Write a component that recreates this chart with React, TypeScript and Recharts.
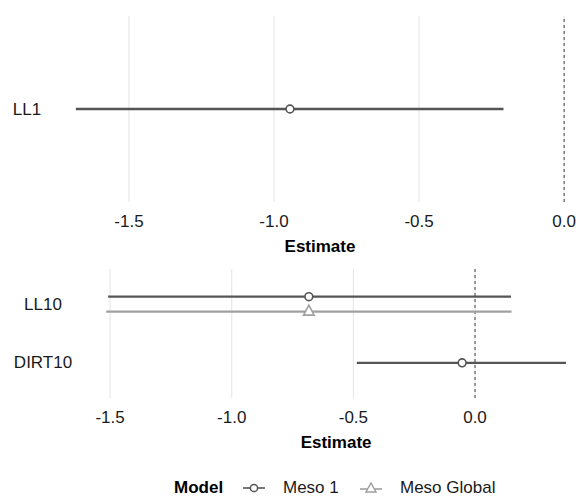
import React from "react";
import { ScatterChart, Scatter, XAxis, YAxis, Legend } from "recharts";

const FONT = "'Liberation Sans', Arial, Helvetica, sans-serif";

// ---------- data ----------
const topTerms = ["LL1"];
const topMeso1Estimate = [-0.945];
const topMeso1Low = [-1.683];
const topMeso1High = [-0.209];

const bottomTerms = ["LL10", "DIRT10"];
const bottomMeso1Estimate = [-0.683, -0.053];
const bottomMeso1Low = [-1.508, -0.486];
const bottomMeso1High = [0.148, 0.374];

const bottomGlobalTerms = ["LL10"];
const bottomGlobalEstimate = [-0.683];
const bottomGlobalLow = [-1.516];
const bottomGlobalHigh = [0.15];

const xTicks = [-1.5, -1.0, -0.5, 0.0];
const zeroLine = 0;
const models = ["Meso 1", "Meso Global"];

// ---------- style ----------
const MESO1 = "#555555";
const GLOBAL = "#a0a0a0";
const GRID = "#e6e6e6";
const TEXT = "#1a1a1a";
const DODGE = 0.128;

type Row = { y: number; est: number; lo: number; hi: number };

function buildRows(
  terms: string[],
  est: number[],
  lo: number[],
  hi: number[],
  allTerms: string[],
  otherTerms: string[],
  sign: number
): Row[] {
  return terms.map((t, i) => {
    const idx = allTerms.indexOf(t);
    const base = allTerms.length - idx;
    const dodge = otherTerms.includes(t) ? sign * DODGE : 0;
    return { y: base + dodge, est: est[i], lo: lo[i], hi: hi[i] };
  });
}

const topMeso1Rows = buildRows(topTerms, topMeso1Estimate, topMeso1Low, topMeso1High, topTerms, [], 1);
const bottomMeso1Rows = buildRows(
  bottomTerms,
  bottomMeso1Estimate,
  bottomMeso1Low,
  bottomMeso1High,
  bottomTerms,
  bottomGlobalTerms,
  1
);
const bottomGlobalRows = buildRows(
  bottomGlobalTerms,
  bottomGlobalEstimate,
  bottomGlobalLow,
  bottomGlobalHigh,
  bottomTerms,
  bottomTerms,
  -1
);

const fmt = (v: number) => (Math.abs(v) < 1e-9 ? "0.0" : v.toFixed(1));

const CircleShape = (color: string) => (p: any) =>
  <circle cx={p.cx} cy={p.cy} r={3.9} fill="#ffffff" stroke={color} strokeWidth={1.6} />;

const TriangleShape = (color: string) => (p: any) => {
  const cx = p.cx;
  const cy = p.cy;
  const pts = `${cx},${cy - 6.6} ${cx + 5.3},${cy + 3.4} ${cx - 5.3},${cy + 3.4}`;
  return <polygon points={pts} fill="#ffffff" stroke={color} strokeWidth={1.6} strokeLinejoin="miter" />;
};

const NoShape = () => <g />;

const XTick = (p: any) => (
  <text
    x={p.x}
    y={p.y + 19}
    textAnchor="middle"
    dominantBaseline="central"
    fontFamily={FONT}
    fontSize={17}
    fill={TEXT}
  >
    {fmt(p.payload.value)}
  </text>
);

const makeYTick = (terms: string[], cx: number) => (p: any) => {
  const v = p.payload.value as number;
  const label = terms[terms.length - Math.round(v)];
  return (
    <text
      x={cx}
      y={p.y}
      textAnchor="middle"
      dominantBaseline="central"
      fontFamily={FONT}
      fontSize={17}
      fill={TEXT}
    >
      {label}
    </text>
  );
};

const estimateLabel = (p: any) => {
  const vb = p.viewBox || {};
  return (
    <text
      x={vb.x + vb.width / 2}
      y={vb.y + 44.5}
      textAnchor="middle"
      dominantBaseline="central"
      fontFamily={FONT}
      fontSize={17}
      fontWeight="bold"
      fill="#000"
    >
      Estimate
    </text>
  );
};

// vertical line through the whole panel, drawn as a data series
function vline(x: number, yDomain: number[], lineProps: any, key: string) {
  return (
    <Scatter
      key={key}
      data={[
        { x, y: yDomain[0] },
        { x, y: yDomain[1] },
      ]}
      line={lineProps}
      lineType="joint"
      shape={NoShape}
      isAnimationActive={false}
    />
  );
}

function gridAndZero(yDomain: number[], prefix: string) {
  return [
    ...xTicks.map((t, i) => vline(t, yDomain, { stroke: GRID, strokeWidth: 1.1 }, `${prefix}-g${i}`)),
    vline(zeroLine, yDomain, { stroke: "#444444", strokeWidth: 1, strokeDasharray: "3 3" }, `${prefix}-zero`),
  ];
}

function intervals(rows: Row[], color: string, keyPrefix: string) {
  return rows.map((r, i) => (
    <Scatter
      key={`${keyPrefix}-${i}`}
      data={[
        { x: r.lo, y: r.y },
        { x: r.hi, y: r.y },
      ]}
      line={{ stroke: color, strokeWidth: 2.3 }}
      lineType="joint"
      shape={NoShape}
      isAnimationActive={false}
    />
  ));
}

const LegendContent = () => (
  <div
    style={{
      position: "relative",
      width: 589,
      height: 18,
      fontFamily: FONT,
      fontSize: 17,
      color: TEXT,
    }}
  >
    <span style={{ position: "absolute", left: 174, top: 0, lineHeight: "18px", fontWeight: "bold", color: "#000" }}>
      Model
    </span>
    <svg style={{ position: "absolute", left: 243, top: 0 }} width={22} height={18}>
      <line x1={0} y1={9} x2={22} y2={9} stroke={MESO1} strokeWidth={1.6} />
      <circle cx={11} cy={9} r={3.6} fill="#fff" stroke={MESO1} strokeWidth={1.5} />
    </svg>
    <span style={{ position: "absolute", left: 283, top: 0, lineHeight: "18px", whiteSpace: "nowrap" }}>
      {models[0]}
    </span>
    <svg style={{ position: "absolute", left: 360, top: 0 }} width={22} height={18}>
      <line x1={0} y1={10} x2={22} y2={10} stroke={GLOBAL} strokeWidth={1.6} />
      <polygon points="11,4 16,13 6,13" fill="#fff" stroke={GLOBAL} strokeWidth={1.5} />
    </svg>
    <span style={{ position: "absolute", left: 400, top: 0, lineHeight: "18px", whiteSpace: "nowrap" }}>
      {models[1]}
    </span>
  </div>
);

const topYDomain = [0.4, 1.6];
const bottomYDomain = [0.4, 2.6];

export default function App() {
  return (
    <div
      style={{
        position: "absolute",
        left: 0,
        top: 0,
        width: 576,
        height: 497,
        overflow: "hidden",
        background: "#ffffff",
      }}
    >
      <div style={{ position: "absolute", left: 0, top: 0 }}>
        <ScatterChart width={588.5} height={260} margin={{ top: 16, right: 0, bottom: 0, left: 0 }}>
          <XAxis
            type="number"
            dataKey="x"
            domain={[-1.767, 0.084]}
            ticks={xTicks}
            interval={0}
            allowDataOverflow
            axisLine={false}
            tickLine={false}
            tickSize={0}
            tickMargin={0}
            height={58}
            tick={XTick}
            label={{ value: "Estimate", content: estimateLabel }}
          />
          <YAxis
            type="number"
            dataKey="y"
            domain={topYDomain}
            ticks={[1]}
            interval={0}
            allowDataOverflow
            axisLine={false}
            tickLine={false}
            tickSize={0}
            tickMargin={0}
            width={51.5}
            tick={makeYTick(topTerms, 27)}
          />
          {gridAndZero(topYDomain, "top")}
          {intervals(topMeso1Rows, MESO1, "top")}
          <Scatter
            data={topMeso1Rows.map((r) => ({ x: r.est, y: r.y }))}
            shape={CircleShape(MESO1)}
            isAnimationActive={false}
          />
        </ScatterChart>
      </div>
      <div style={{ position: "absolute", left: 0, top: 260 }}>
        <ScatterChart width={589} height={237} margin={{ top: 9, right: 0, bottom: 0, left: 0 }}>
          <XAxis
            type="number"
            dataKey="x"
            domain={[-1.6105, 0.4685]}
            ticks={xTicks}
            interval={0}
            allowDataOverflow
            axisLine={false}
            tickLine={false}
            tickSize={0}
            tickMargin={0}
            height={81}
            tick={XTick}
            label={{ value: "Estimate", content: estimateLabel }}
          />
          <YAxis
            type="number"
            dataKey="y"
            domain={bottomYDomain}
            ticks={[1, 2]}
            interval={0}
            allowDataOverflow
            axisLine={false}
            tickLine={false}
            tickSize={0}
            tickMargin={0}
            width={83.2}
            tick={makeYTick(bottomTerms, 43)}
          />
          {gridAndZero(bottomYDomain, "bot")}
          {intervals(bottomMeso1Rows, MESO1, "m1")}
          {intervals(bottomGlobalRows, GLOBAL, "gl")}
          <Scatter
            data={bottomMeso1Rows.map((r) => ({ x: r.est, y: r.y }))}
            shape={CircleShape(MESO1)}
            isAnimationActive={false}
          />
          <Scatter
            data={bottomGlobalRows.map((r) => ({ x: r.est, y: r.y }))}
            shape={TriangleShape(GLOBAL)}
            isAnimationActive={false}
          />
          <Legend
            verticalAlign="bottom"
            align="left"
            height={18}
            wrapperStyle={{ left: 0, bottom: 0, width: 589 }}
            content={LegendContent}
          />
        </ScatterChart>
      </div>
    </div>
  );
}
